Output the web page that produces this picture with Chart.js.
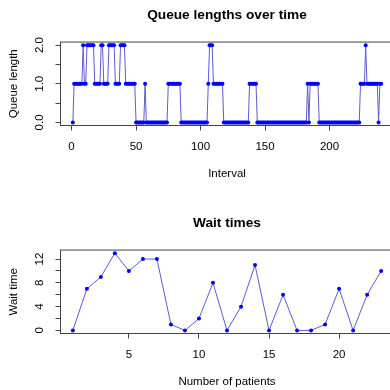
<!DOCTYPE html>
<html>
<head>
<meta charset="utf-8">
<script src="https://cdn.jsdelivr.net/npm/chart.js@4.4.1/dist/chart.umd.min.js"></script>
<style>
  html, body { margin: 0; padding: 0; width: 390px; height: 390px; overflow: hidden; background: #fff; }
  canvas { position: absolute; left: 0; }
  #queueChart { top: 0; }
  #waitChart { top: 208px; }
</style>
</head>
<body>
<canvas id="queueChart" width="420" height="208"></canvas>
<canvas id="waitChart" width="420" height="208"></canvas>
<script>
// queue length at each interval (1..240)
const queueLength = [
  0, 1, 1, 1, 1, 1, 1, 1, 2, 1,
  1, 2, 2, 2, 2, 2, 2, 1, 1, 1,
  1, 1, 2, 2, 1, 1, 1, 1, 2, 2,
  2, 2, 2, 1, 1, 1, 1, 2, 2, 2,
  2, 1, 1, 1, 1, 1, 1, 1, 1, 0,
  0, 0, 0, 0, 0, 0, 1, 0, 0, 0,
  0, 0, 0, 0, 0, 0, 0, 0, 0, 0,
  0, 0, 0, 0, 1, 1, 1, 1, 1, 1,
  1, 1, 1, 1, 0, 0, 0, 0, 0, 0,
  0, 0, 0, 0, 0, 0, 0, 0, 0, 0,
  0, 0, 0, 0, 0, 1, 2, 2, 2, 1,
  1, 1, 1, 1, 1, 1, 1, 0, 0, 0,
  0, 0, 0, 0, 0, 0, 0, 0, 0, 0,
  0, 0, 0, 0, 0, 0, 0, 1, 1, 1,
  1, 1, 1, 0, 0, 0, 0, 0, 0, 0,
  0, 0, 0, 0, 0, 0, 0, 0, 0, 0,
  0, 0, 0, 0, 0, 0, 0, 0, 0, 0,
  0, 0, 0, 0, 0, 0, 0, 0, 0, 0,
  0, 0, 1, 0, 1, 1, 1, 1, 1, 1,
  1, 0, 0, 0, 0, 0, 0, 0, 0, 0,
  0, 0, 0, 0, 0, 0, 0, 0, 0, 0,
  0, 0, 0, 0, 0, 0, 0, 0, 0, 0,
  0, 0, 0, 1, 1, 1, 1, 2, 1, 1,
  1, 1, 1, 1, 1, 1, 1, 0, 1, 1
]
// wait time of each patient (1..23)
const waitTime = [0, 7, 9, 13, 10, 12, 12, 1, 0, 2, 8, 0, 4, 11, 0, 6, 0, 0, 1, 7, 0, 6, 10]

const queueXTicks = [0, 50, 100, 150, 200]
const queueYTicks = [0, 0.5, 1, 1.5, 2]
const queueYLabels = ['0.0', '', '1.0', '', '2.0']
const waitXTicks = [5, 10, 15, 20]
const waitYTicks = [0, 2, 4, 6, 8, 10, 12]
const waitYLabels = ['0', '', '4', '', '8', '', '12']

const FONT = 'Arial, "Liberation Sans", Helvetica, sans-serif'
const AXIS = '#444'

// R style: box around plot region and rotated y tick labels
const rStyle = {
  id: 'rStyle',
  afterDraw(chart, args, opts) {
    const { ctx, chartArea: a } = chart
    const ys = chart.scales.y
    ctx.save()
    ctx.strokeStyle = AXIS
    ctx.lineWidth = 1
    ctx.strokeRect(a.left, a.top, a.right - a.left, a.bottom - a.top)
    ctx.fillStyle = '#000'
    ctx.font = '11.5px ' + FONT
    ctx.textAlign = 'center'
    ctx.textBaseline = 'middle'
    opts.values.forEach((v, i) => {
      if (!opts.labels[i]) return
      ctx.save()
      ctx.translate(40, ys.getPixelForValue(v))
      ctx.rotate(-Math.PI / 2)
      ctx.fillText(opts.labels[i], 0, 0)
      ctx.restore()
    })
    ctx.restore()
  }
}

const makeChart = (id, cfg) => new Chart(document.getElementById(id), {
  type: 'line',
  data: {
    datasets: [{
      data: cfg.values.map((v, i) => ({ x: i + 1, y: v })),
      borderColor: '#5c5cd0',
      borderWidth: 1,
      tension: 0,
      pointRadius: 2,
      pointBackgroundColor: '#0000ff',
      pointBorderWidth: 0,
      pointHoverRadius: 2
    }]
  },
  options: {
    responsive: false,
    animation: false,
    devicePixelRatio: 1,
    layout: { padding: { left: 0, right: 26.5, top: 0, bottom: 0 } },
    scales: {
      x: {
        type: 'linear',
        min: cfg.xMin,
        max: cfg.xMax,
        afterBuildTicks: s => { s.ticks = cfg.xTicks.map(v => ({ value: v })) },
        afterFit: s => { s.height = 82.5 },
        grid: { drawOnChartArea: false, tickLength: 5, color: AXIS },
        border: { display: false },
        ticks: { color: '#000', padding: 9, font: { size: 11.5, family: FONT }, maxRotation: 0 },
        title: { display: true, text: cfg.xTitle, color: '#000', font: { size: 11.5, family: FONT }, padding: { top: 0, bottom: 27 } }
      },
      y: {
        min: cfg.yMin,
        max: cfg.yMax,
        afterBuildTicks: s => { s.ticks = cfg.yTicks.map(v => ({ value: v })) },
        afterFit: s => { s.width = 60.5 },
        grid: { drawOnChartArea: false, tickLength: 5, color: AXIS },
        border: { display: false },
        ticks: { display: false },
        title: { display: true, text: cfg.yTitle, color: '#000', font: { size: 11.5, family: FONT }, padding: { top: 7, bottom: 0 } }
      }
    },
    plugins: {
      legend: { display: false },
      tooltip: { enabled: false },
      title: {
        display: true,
        fullSize: false,
        text: cfg.title,
        color: '#000',
        font: { size: 13.7, weight: 'bold', family: FONT },
        padding: { top: 6.8, bottom: 18.8 }
      },
      rStyle: { values: cfg.yTicks, labels: cfg.yLabels }
    }
  },
  plugins: [rStyle]
})

makeChart('queueChart', {
  values: queueLength,
  xMin: -8.56, xMax: 249.56, xTicks: queueXTicks,
  yMin: -0.08, yMax: 2.08, yTicks: queueYTicks, yLabels: queueYLabels,
  title: 'Queue lengths over time', xTitle: 'Interval', yTitle: 'Queue length'
})

makeChart('waitChart', {
  values: waitTime,
  xMin: 0.12, xMax: 23.88, xTicks: waitXTicks,
  yMin: -0.52, yMax: 13.52, yTicks: waitYTicks, yLabels: waitYLabels,
  title: 'Wait times', xTitle: 'Number of patients', yTitle: 'Wait time'
})
</script>
</body>
</html>
